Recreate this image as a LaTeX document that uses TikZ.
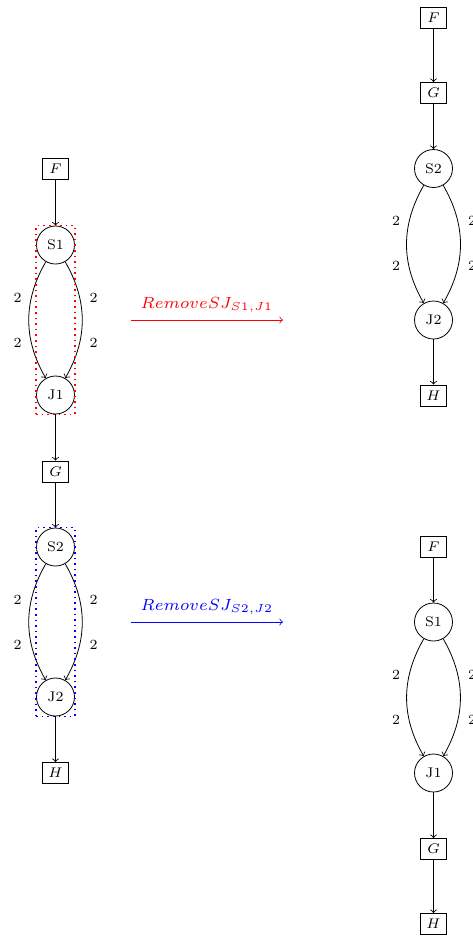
\documentclass[tikz,border=0pt]{standalone}
\usetikzlibrary{fit}
\begin{document}
\begin{tikzpicture}[x=0.5pt,y=-0.5pt,
  box/.style={draw, minimum width=13pt, minimum height=10.5pt, inner sep=0pt, font=\scriptsize},
  jn/.style={draw, circle, minimum size=19pt, inner sep=0pt, font=\scriptsize},
  lbl/.style={font=\scriptsize, inner sep=0pt},
  arr/.style={->},
  bl/.style={->, bend left=30, looseness=1},
  br/.style={->, bend right=30, looseness=1},
  grp/.style={dotted, thick, inner sep=0pt},
  trans/.style={->},
  tlab/.style={above, font=\scriptsize}
]
\useasboundingbox (0,0) rectangle (472,938);

% left column
\node[box] (lF) at (55.5,168.5) {$F$};
\node[jn] (lS1) at (55.5,245) {S1};
\node[jn] (lJ1) at (55.5,395) {J1};
\node[box] (lG) at (55.5,471.5) {$G$};
\node[jn] (lS2) at (55.5,547) {S2};
\node[jn] (lJ2) at (55.5,697) {J2};
\node[box] (lH) at (55.5,773) {$H$};
\draw[arr] (lF) -- (lS1);
\draw[br] (lS1) to (lJ1);
\draw[bl] (lS1) to (lJ1);
\draw[arr] (lJ1) -- (lG);
\draw[arr] (lG) -- (lS2);
\draw[br] (lS2) to (lJ2);
\draw[bl] (lS2) to (lJ2);
\draw[arr] (lJ2) -- (lH);
\node[lbl] (l1a) at (17.5,297.5) {2};
\node[lbl] (l1b) at (17.5,342.5) {2};
\node[lbl] (l1c) at (93.5,297.5) {2};
\node[lbl] (l1d) at (93.5,342.5) {2};
\node[lbl] (l2a) at (17.5,599.5) {2};
\node[lbl] (l2b) at (17.5,644.5) {2};
\node[lbl] (l2c) at (93.5,599.5) {2};
\node[lbl] (l2d) at (93.5,644.5) {2};
\node[grp, draw=red, fit=(lS1)(lJ1)] (g1) {};
\node[grp, draw=blue, fit=(lS2)(lJ2)] (g2) {};

% transformation arrows
\coordinate (t1s) at (131,320);
\coordinate (t1e) at (283,320);
\draw[trans, red] (t1s) -- node[tlab] {\scalebox{1.16}{$RemoveSJ_{S1,J1}$}} (t1e);
\coordinate (t2s) at (131,622);
\coordinate (t2e) at (283,622);
\draw[trans, blue] (t2s) -- node[tlab] {\scalebox{1.16}{$RemoveSJ_{S2,J2}$}} (t2e);

% right top column
\node[box] (aF) at (433.5,17.5) {$F$};
\node[box] (aG) at (433.5,93) {$G$};
\node[jn] (aS2) at (433.5,168.5) {S2};
\node[jn] (aJ2) at (433.5,320) {J2};
\node[box] (aH) at (433.5,395.5) {$H$};
\draw[arr] (aF) -- (aG);
\draw[arr] (aG) -- (aS2);
\draw[br] (aS2) to (aJ2);
\draw[bl] (aS2) to (aJ2);
\draw[arr] (aJ2) -- (aH);
\node[lbl] (a1) at (396,221) {2};
\node[lbl] (a2) at (396,266) {2};
\node[lbl] (a3) at (472,221) {2};
\node[lbl] (a4) at (472,266) {2};

% right bottom column
\node[box] (bF) at (433.5,547) {$F$};
\node[jn] (bS1) at (433.5,622) {S1};
\node[jn] (bJ1) at (433.5,773) {J1};
\node[box] (bG) at (433.5,849) {$G$};
\node[box] (bH) at (433.5,924) {$H$};
\draw[arr] (bF) -- (bS1);
\draw[br] (bS1) to (bJ1);
\draw[bl] (bS1) to (bJ1);
\draw[arr] (bJ1) -- (bG);
\draw[arr] (bG) -- (bH);
\node[lbl] (b1) at (396,674.5) {2};
\node[lbl] (b2) at (396,719.5) {2};
\node[lbl] (b3) at (472,674.5) {2};
\node[lbl] (b4) at (472,719.5) {2};
\end{tikzpicture}
\end{document}
